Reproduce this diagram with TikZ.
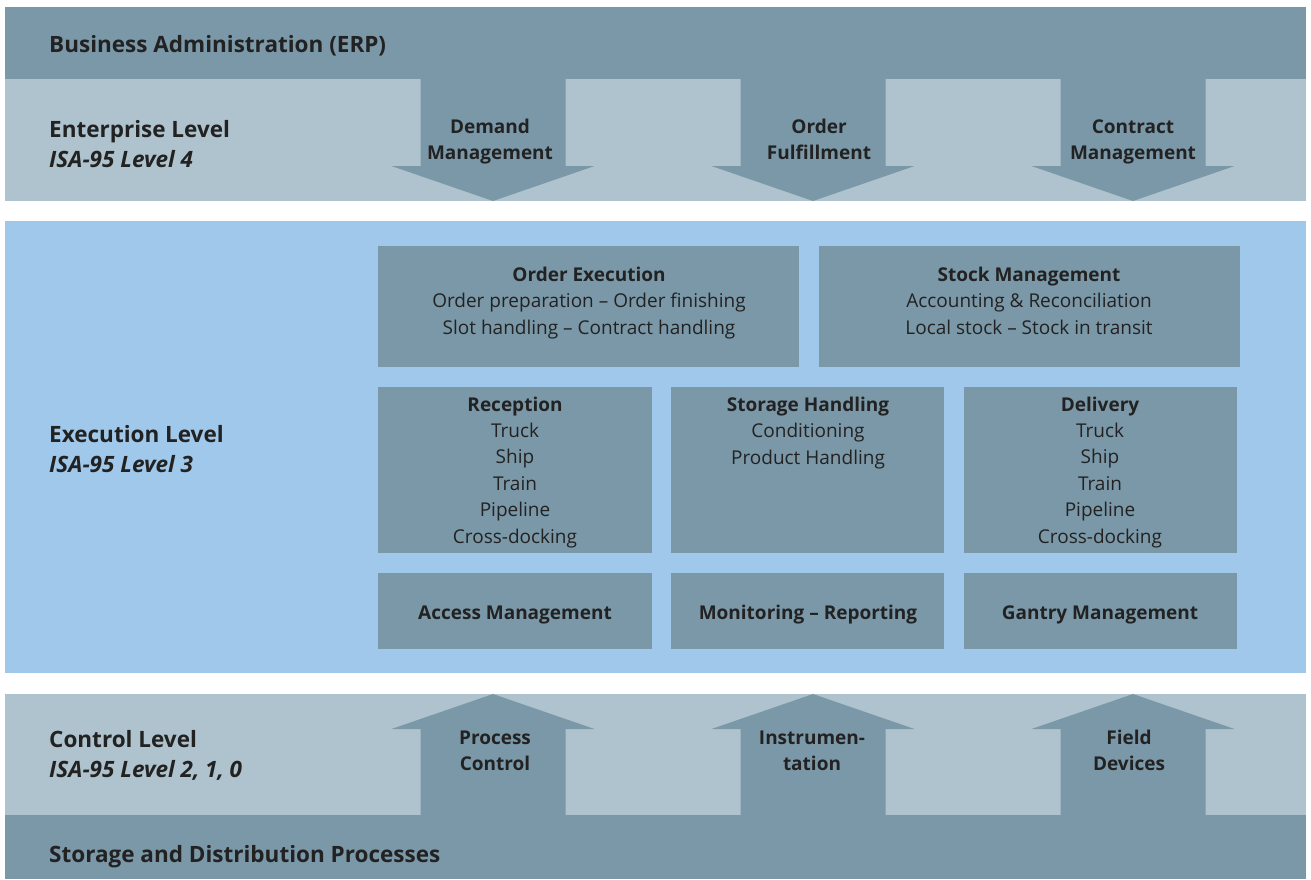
\documentclass[tikz,border=0pt]{standalone}
\usepackage{fontspec}
\setmainfont{Open Sans}
\definecolor{darkband}{RGB}{123,152,168}
\definecolor{lightband}{RGB}{175,195,206}
\definecolor{execband}{RGB}{160,200,234}
\definecolor{txt}{RGB}{34,34,34}
\begin{document}
\begin{tikzpicture}[x=1pt,y=-1pt,
  lvl/.style={anchor=base west,inner sep=0pt,text=txt,font=\fontsize{22.5}{29}\selectfont\bfseries},
  lvlit/.style={anchor=base west,inner sep=0pt,text=txt,font=\fontsize{22.5}{29}\selectfont\bfseries\itshape},
  arrlbl/.style={anchor=base,align=center,inner sep=0pt,text=txt,font=\fontsize{19}{26}\selectfont\bfseries},
  box/.style={fill=darkband,draw=none},
  boxtxt/.style={anchor=base,align=center,inner sep=0pt,text=txt,font=\fontsize{19}{26.4}\selectfont},
]
\useasboundingbox (0,0) rectangle (1311,879);
\fill[white] (0,0) rectangle (1311,879);
% bands
\fill[darkband] (5,7) rectangle (1306,79);
\fill[lightband] (5,79) rectangle (1306,201);
\fill[execband] (5,221) rectangle (1306,673);
\fill[lightband] (5,694) rectangle (1306,815);
\fill[darkband] (5,815) rectangle (1306,879);
% down arrows
\foreach \cx in {493,813,1133}{
  \fill[darkband] (\cx-72.5,79) -- (\cx+72.5,79) -- (\cx+72.5,166) -- (\cx+101.5,166)
    -- (\cx,201) -- (\cx-101.5,166) -- (\cx-72.5,166) -- cycle;
}
% up arrows
\foreach \cx in {493,813,1133}{
  \fill[darkband] (\cx-72.5,815) -- (\cx+72.5,815) -- (\cx+72.5,729) -- (\cx+101.5,729)
    -- (\cx,694) -- (\cx-101.5,729) -- (\cx-72.5,729) -- cycle;
}
% level labels
\node[lvl] (erp) at (49,52) {Business Administration (ERP)};
\node[lvl] (ent) at (49,137) {Enterprise Level};
\node[lvlit] (ent4) at (49,167) {ISA-95 Level 4};
\node[lvl] (exe) at (49,442) {Execution Level};
\node[lvlit] (exe3) at (49,472) {ISA-95 Level 3};
\node[lvl] (ctl) at (49,747) {Control Level};
\node[lvlit] (ctl2) at (49,777) {ISA-95 Level 2, 1, 0};
\node[lvl] (sdp) at (49,862) {Storage and Distribution Processes};
% arrow labels (anchor = baseline of last line)
\node[arrlbl] (dm) at (490,159) {Demand\\Management};
\node[arrlbl] (of) at (819,159) {Order\\Fulfillment};
\node[arrlbl] (cm) at (1133,159) {Contract\\Management};
\node[arrlbl] (pc) at (495,770) {Process\\Control};
\node[arrlbl] (ins) at (812,770) {Instrumen-\\tation};
\node[arrlbl] (fd) at (1129,770) {Field\\Devices};
% boxes
\fill[box] (378,246) rectangle (799,367);
\fill[box] (819,246) rectangle (1240,367);
\fill[box] (378,387) rectangle (652,553);
\fill[box] (671,387) rectangle (944,553);
\fill[box] (964,387) rectangle (1237,553);
\fill[box] (378,573) rectangle (652,649);
\fill[box] (671,573) rectangle (944,649);
\fill[box] (964,573) rectangle (1237,649);
\node[boxtxt] (oe) at (589,334) {\textbf{Order Execution}\\Order preparation -- Order finishing\\Slot handling -- Contract handling};
\node[boxtxt] (sm) at (1029,334) {\textbf{Stock Management}\\Accounting \& Reconciliation\\Local stock -- Stock in transit};
\node[boxtxt] (rc) at (515,543) {\textbf{Reception}\\Truck\\Ship\\Train\\Pipeline\\Cross-docking};
\node[boxtxt] (sh) at (808,464) {\textbf{Storage Handling}\\Conditioning\\Product Handling};
\node[boxtxt] (dl) at (1100,543) {\textbf{Delivery}\\Truck\\Ship\\Train\\Pipeline\\Cross-docking};
\node[arrlbl] (am) at (515,619) {Access Management};
\node[arrlbl] (mr) at (808,619) {Monitoring -- Reporting};
\node[arrlbl] (gm) at (1100,619) {Gantry Management};
\end{tikzpicture}
\end{document}
